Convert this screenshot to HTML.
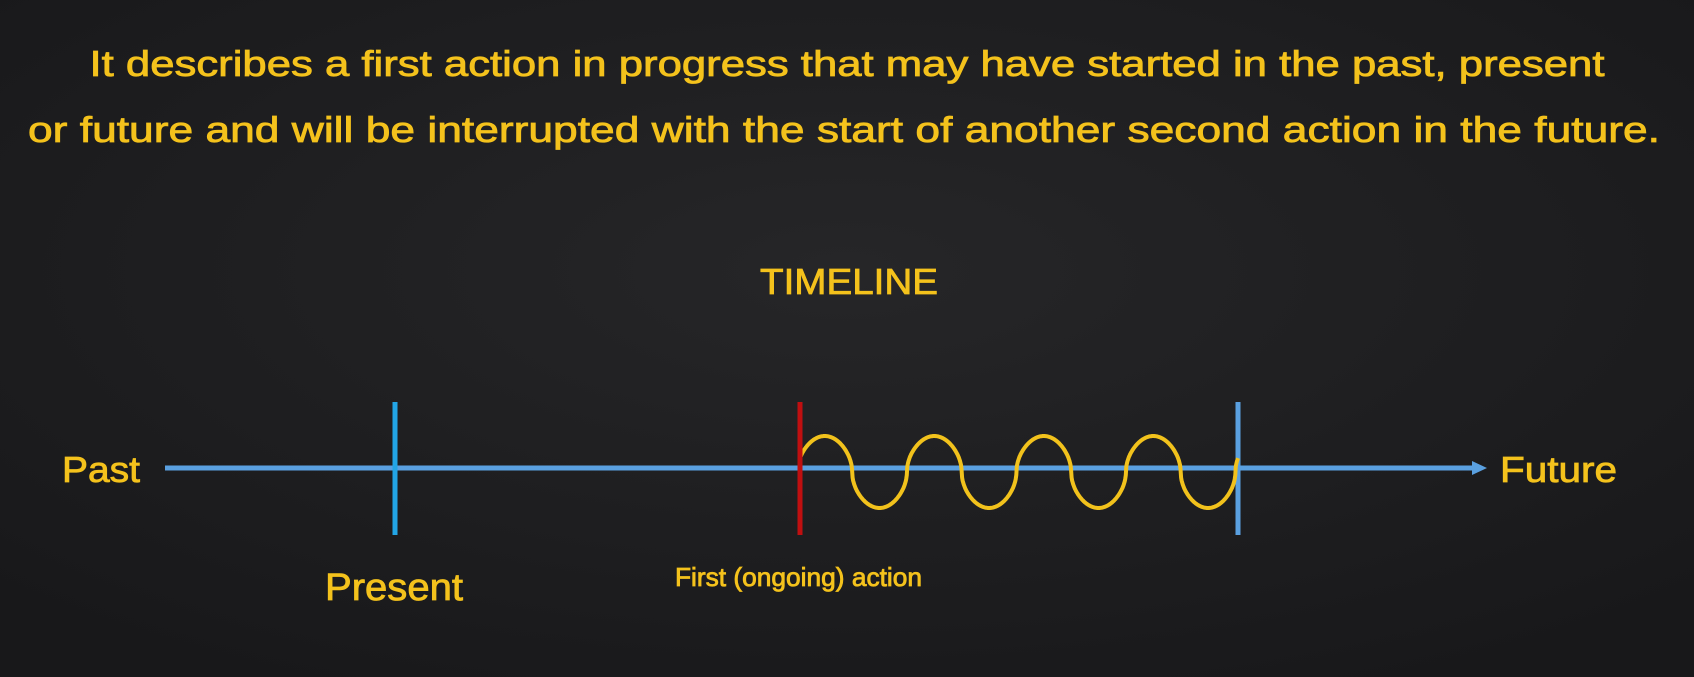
<!DOCTYPE html>
<html><head><meta charset="utf-8"><style>
html,body{margin:0;padding:0;background:#1d1d1f;}
svg{display:block}
text{font-family:"Liberation Sans",sans-serif;fill:#f4c21c;stroke:#f4c21c;stroke-width:0.8px;}
</style></head><body>
<svg width="1694" height="677" viewBox="0 0 1694 677">
<defs><radialGradient id="bg" cx="50%" cy="40%" r="70%"><stop offset="0" stop-color="#262628"/><stop offset="1" stop-color="#18181a"/></radialGradient></defs>
<rect width="1694" height="677" fill="url(#bg)"/>
<text x="847" y="76" text-anchor="middle" font-size="36" textLength="1515" lengthAdjust="spacingAndGlyphs">It describes a first action in progress that may have started in the past, present</text>
<text x="844" y="142" text-anchor="middle" font-size="36" textLength="1632" lengthAdjust="spacingAndGlyphs">or future and will be interrupted with the start of another second action in the future.</text>
<text x="849" y="294" text-anchor="middle" font-size="36" textLength="178" lengthAdjust="spacingAndGlyphs">TIMELINE</text>
<line x1="165" y1="468" x2="1475" y2="468" stroke="#5aa0e0" stroke-width="5"/>
<polygon points="1472,461 1487,468 1472,475" fill="#5aa0e0"/>
<line x1="395" y1="402" x2="395" y2="535" stroke="#22a5e6" stroke-width="5"/>
<line x1="1238" y1="402" x2="1238" y2="535" stroke="#5aa0e0" stroke-width="5"/>
<path id="wave" fill="none" stroke="#f2c21c" stroke-width="4"/>
<line x1="800" y1="402" x2="800" y2="535" stroke="#c00f10" stroke-width="5"/>
<text x="62" y="482" font-size="36" textLength="78" lengthAdjust="spacingAndGlyphs">Past</text>
<text x="1500" y="482" font-size="36" textLength="117" lengthAdjust="spacingAndGlyphs">Future</text>
<text x="325" y="600" font-size="38" textLength="138" lengthAdjust="spacingAndGlyphs">Present</text>
<text x="675" y="586" font-size="26" textLength="247" lengthAdjust="spacingAndGlyphs">First (ongoing) action</text>
</svg>
<script>
const waveStart=[800];
const waveEnd=[1238];
const waveCycles=[4];
const waveAmp=[36];
const waveCenter=[472];
let d='';
for(let i=0;i<=800;i++){
  const t=i/800;
  const x=waveStart[0]+t*(waveEnd[0]-waveStart[0]);
  const s=Math.sin(t*waveCycles[0]*2*Math.PI+0.15);
  const y=waveCenter[0]-waveAmp[0]*Math.sign(s)*Math.pow(Math.abs(s),0.5);
  d+=(i?'L':'M')+x.toFixed(1)+' '+y.toFixed(1);
}
document.getElementById('wave').setAttribute('d',d);
</script>
</body></html>
